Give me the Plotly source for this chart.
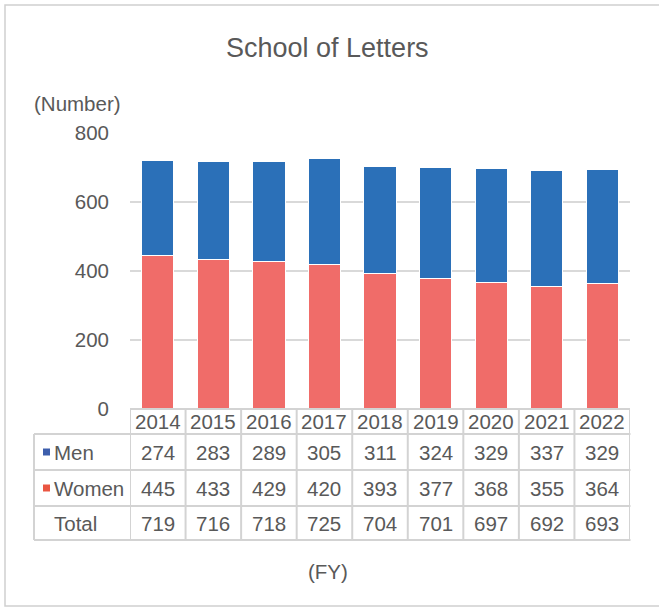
import plotly.graph_objects as go

years = ["2014", "2015", "2016", "2017", "2018", "2019", "2020", "2021", "2022"]
men = [274, 283, 289, 305, 311, 324, 329, 337, 329]
women = [445, 433, 429, 420, 393, 377, 368, 355, 364]
total = [719, 716, 718, 725, 704, 701, 697, 692, 693]
row_labels = ["Men", "Women", "Total"]

W, H = 659, 608
BLUE = "#2B70B8"
RED = "#F06C69"
LEG_BLUE = "#3D5EAC"
LEG_RED = "#EA5642"
TXT = "#595959"
LINE = "#D3D3D3"
FONT = "Liberation Sans, Arial, sans-serif"

def px(x):
    return x / W

def py(y):
    return 1 - y / H

fig = go.Figure()
fig.add_trace(go.Bar(x=years, y=women, name="Women", marker=dict(color=RED, line=dict(color="white", width=1)), width=0.58))
fig.add_trace(go.Bar(x=years, y=men, name="Men", marker=dict(color=BLUE, line=dict(color="white", width=1)), width=0.58))

shapes = []
ann = []

shapes.append(dict(type="rect", xref="paper", yref="paper", x0=px(5), x1=px(670), y0=py(606), y1=py(5),
                   line=dict(color="#D0D0D0", width=1.5), fillcolor="rgba(0,0,0,0)"))

top, hdr, r1, r2, bot = 409, 434, 470, 506, 540
left = 34
n = len(years)
shapes.append(dict(type="line", xref="x", yref="paper", x0=-0.5, x1=n - 0.5, y0=py(top), y1=py(top), line=dict(color=LINE, width=2)))
for yy in [hdr, r1, r2, bot]:
    shapes.append(dict(type="line", xref="paper", yref="paper", x0=px(left), x1=px(630.5), y0=py(yy), y1=py(yy), line=dict(color=LINE, width=2)))
for i in range(n + 1):
    shapes.append(dict(type="line", xref="x", yref="paper", x0=i - 0.5, x1=i - 0.5, y0=py(top), y1=py(bot), line=dict(color=LINE, width=2)))
shapes.append(dict(type="line", xref="paper", yref="paper", x0=px(left), x1=px(left), y0=py(hdr), y1=py(bot), line=dict(color=LINE, width=2)))

for (yc, col) in [((hdr + r1) / 2, LEG_BLUE), ((r1 + r2) / 2, LEG_RED)]:
    shapes.append(dict(type="rect", xref="paper", yref="paper", x0=px(43), x1=px(50), y0=py(yc + 3.5), y1=py(yc - 3.5),
                       line=dict(width=0), fillcolor=col))

fsz = 20.5
rows_y = [(top + hdr) / 2, (hdr + r1) / 2, (r1 + r2) / 2, (r2 + bot) / 2]
for i, yr in enumerate(years):
    ann.append(dict(x=i, xref="x", y=py(rows_y[0]), yref="paper", text=yr, showarrow=False,
                    font=dict(size=fsz, color=TXT, family=FONT), xanchor="center", yanchor="middle"))
    for vals, yc in [(men, rows_y[1]), (women, rows_y[2]), (total, rows_y[3])]:
        ann.append(dict(x=i, xref="x", y=py(yc), yref="paper", text=str(vals[i]), showarrow=False,
                        font=dict(size=fsz, color=TXT, family=FONT), xanchor="center", yanchor="middle"))
for lab, yc in zip(row_labels, rows_y[1:]):
    ann.append(dict(x=px(52), xref="paper", y=py(yc), yref="paper", text=lab, showarrow=False,
                    font=dict(size=fsz, color=TXT, family=FONT), xanchor="left", yanchor="middle"))

ann.append(dict(x=px(77), xref="paper", y=py(103), yref="paper", text="(Number)", showarrow=False,
                font=dict(size=fsz, color=TXT, family=FONT), xanchor="center", yanchor="middle"))
ann.append(dict(x=px(328), xref="paper", y=py(571), yref="paper", text="(FY)", showarrow=False,
                font=dict(size=fsz, color=TXT, family=FONT), xanchor="center", yanchor="middle"))
ann.append(dict(x=px(327), xref="paper", y=py(48), yref="paper", text="School of Letters", showarrow=False,
                font=dict(size=27, color=TXT, family=FONT), xanchor="center", yanchor="middle"))

fig.update_layout(
    width=W, height=H,
    autosize=False,
    margin=dict(l=0, r=0, t=0, b=0, pad=0, autoexpand=False),
    barmode="stack",
    showlegend=False,
    plot_bgcolor="white", paper_bgcolor="white",
    font=dict(family=FONT, color=TXT, size=fsz),
    xaxis=dict(type="category", domain=[px(130), px(630)], range=[-0.5, n - 0.5], showticklabels=False, showgrid=False,
               zeroline=False, showline=False, ticks="", automargin=False),
    yaxis=dict(domain=[py(409), py(133)], range=[0, 800], tickvals=[0, 200, 400, 600, 800],
               showgrid=True, gridcolor="#D9D9D9", gridwidth=2, zeroline=False, showline=False, automargin=False,
               ticks="", ticklabelstandoff=20, tickfont=dict(size=fsz, color=TXT, family=FONT)),
    shapes=shapes,
    annotations=ann,
)

fig.write_html("out.html", config={"displayModeBar": False},
               post_script="document.body.style.margin='0';")
